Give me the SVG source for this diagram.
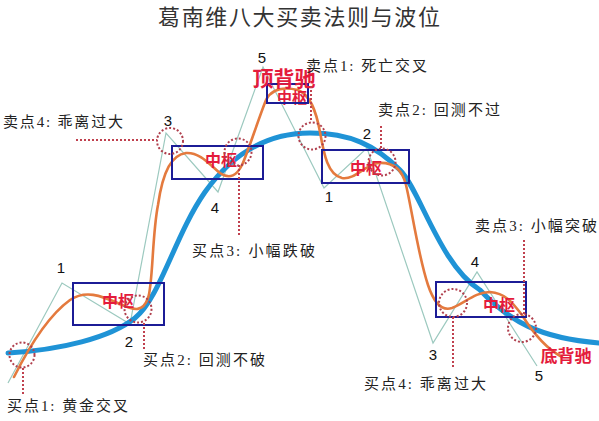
<svg xmlns="http://www.w3.org/2000/svg" width="599" height="421" viewBox="0 0 599 421">
<style>
.bg{fill:#ffffff}
.title{font-family:"Liberation Serif","Noto Sans CJK SC",serif;font-size:22px;fill:#333}
.lbl{font-family:"Liberation Serif","Noto Sans CJK SC",serif;font-size:15px;fill:#222}
.num{font-family:"Liberation Sans",Arial,sans-serif;font-size:15px;fill:#111;text-anchor:middle}
.zs{font-family:"Noto Sans CJK SC",sans-serif;font-weight:bold;fill:#e41b3c;text-anchor:middle}
.box{fill:none;stroke:#1c1c96;stroke-width:2}
.circ{fill:none;stroke:#b0404e;stroke-width:2;stroke-dasharray:2 2}
.lead{fill:none;stroke:#c0404e;stroke-width:2;stroke-dasharray:2 2}
.price{fill:none;stroke:#9cc9bf;stroke-width:1.2;stroke-linejoin:miter}
.ma1{fill:none;stroke:#e47a3e;stroke-width:2.6;stroke-linecap:round}
.ma2{fill:none;stroke:#1f93d6;stroke-width:5;stroke-linecap:round}
</style>
<rect class="bg" x="0" y="0" width="599" height="421"/>
<text class="title" x="158" y="25" textLength="282" lengthAdjust="spacing">葛南维八大买卖法则与波位</text>

<g id="connectors">
  <polyline class="price" points="8,383 62,283 130,324 166,133 218,192 263,67 324,188 367,148 433,343 477,272 537,366"/>
  <path class="ma2" d="M8,353 C60,350 110,338 135,318 C160,298 175,235 205,192 C235,150 270,133 310,133 C350,133 375,145 400,170 C420,190 440,265 480,290 C510,322 540,338 599,343"/>
  <path class="ma1" d="M14,377 C25,355 45,318 70,300 C85,290 100,295 120,304 C135,311 143,312 148,298 C153,285 152,235 158,205 C163,170 172,155 186,153 C200,152 210,165 220,173 C230,180 237,175 242,165 C248,152 258,120 266,100 C272,88 285,87 298,90 C310,95 316,110 320,132 C324,155 328,175 342,178 C355,180 365,165 378,163 C392,162 402,168 406,185 C412,210 418,255 428,285 C433,300 440,312 452,308 C465,303 475,292 490,292 C505,293 512,302 522,315 C530,328 545,348 562,357"/>
</g>

<g id="zs1">
  <text class="zs" x="118" y="307" font-size="16">中枢</text>
  <rect class="box" x="73" y="283" width="91" height="42"/>
</g>
<g id="zs2">
  <text class="zs" x="221" y="166" font-size="16">中枢</text>
  <rect class="box" x="172" y="146" width="91" height="33"/>
</g>
<g id="zs3">
  <text class="zs" x="292" y="103" font-size="15">中枢</text>
  <rect class="box" x="267" y="84" width="41" height="19"/>
</g>
<g id="zs4">
  <text class="zs" x="366" y="174" font-size="16">中枢</text>
  <rect class="box" x="322" y="150" width="87" height="33"/>
</g>
<g id="zs5">
  <text class="zs" x="499" y="311" font-size="16">中枢</text>
  <rect class="box" x="436" y="282" width="90" height="35"/>
</g>

<g id="top-divergence">
  <text class="zs" x="284" y="86" font-size="21">顶背驰</text>
</g>
<g id="bottom-divergence">
  <text class="zs" x="566" y="362" font-size="17">底背驰</text>
</g>

<g id="circles">
  <circle class="circ" cx="22" cy="355" r="12.5"/>
  <circle class="circ" cx="138" cy="309" r="13.5"/>
  <circle class="circ" cx="170" cy="141" r="13"/>
  <circle class="circ" cx="238" cy="152" r="13.5"/>
  <circle class="circ" cx="312" cy="136" r="13.5"/>
  <circle class="circ" cx="382" cy="162" r="13.5"/>
  <circle class="circ" cx="453" cy="303" r="14"/>
  <circle class="circ" cx="522" cy="328" r="14"/>
</g>

<g id="leaders">
  <line class="lead" x1="76" y1="140" x2="157" y2="140"/>
  <line class="lead" x1="23" y1="368" x2="23" y2="394"/>
  <line class="lead" x1="144" y1="323" x2="144" y2="349"/>
  <line class="lead" x1="239" y1="165" x2="239" y2="237"/>
  <line class="lead" x1="311" y1="86" x2="311" y2="122"/>
  <line class="lead" x1="381" y1="126" x2="381" y2="149"/>
  <line class="lead" x1="524" y1="240" x2="524" y2="314"/>
  <line class="lead" x1="453" y1="317" x2="453" y2="368"/>
</g>

<g id="wave-numbers">
  <text class="num" x="61" y="273">1</text>
  <text class="num" x="129" y="347">2</text>
  <text class="num" x="168" y="126">3</text>
  <text class="num" x="215" y="213">4</text>
  <text class="num" x="262" y="63">5</text>
  <text class="num" x="329" y="202">1</text>
  <text class="num" x="367" y="139">2</text>
  <text class="num" x="433" y="360">3</text>
  <text class="num" x="475" y="267">4</text>
  <text class="num" x="539" y="381">5</text>
</g>

<g id="labels">
  <text class="lbl" x="3" y="127" textLength="120" lengthAdjust="spacing">卖点4: 乖离过大</text>
  <text class="lbl" x="306" y="71" textLength="121" lengthAdjust="spacing">卖点1: 死亡交叉</text>
  <text class="lbl" x="378" y="115" textLength="122" lengthAdjust="spacing">卖点2: 回测不过</text>
  <text class="lbl" x="192" y="256" textLength="123" lengthAdjust="spacing">买点3: 小幅跌破</text>
  <text class="lbl" x="475" y="231" textLength="122" lengthAdjust="spacing">卖点3: 小幅突破</text>
  <text class="lbl" x="143" y="365" textLength="122" lengthAdjust="spacing">买点2: 回测不破</text>
  <text class="lbl" x="7" y="411" textLength="121" lengthAdjust="spacing">买点1: 黄金交叉</text>
  <text class="lbl" x="364" y="389" textLength="122" lengthAdjust="spacing">买点4: 乖离过大</text>
</g>
</svg>
